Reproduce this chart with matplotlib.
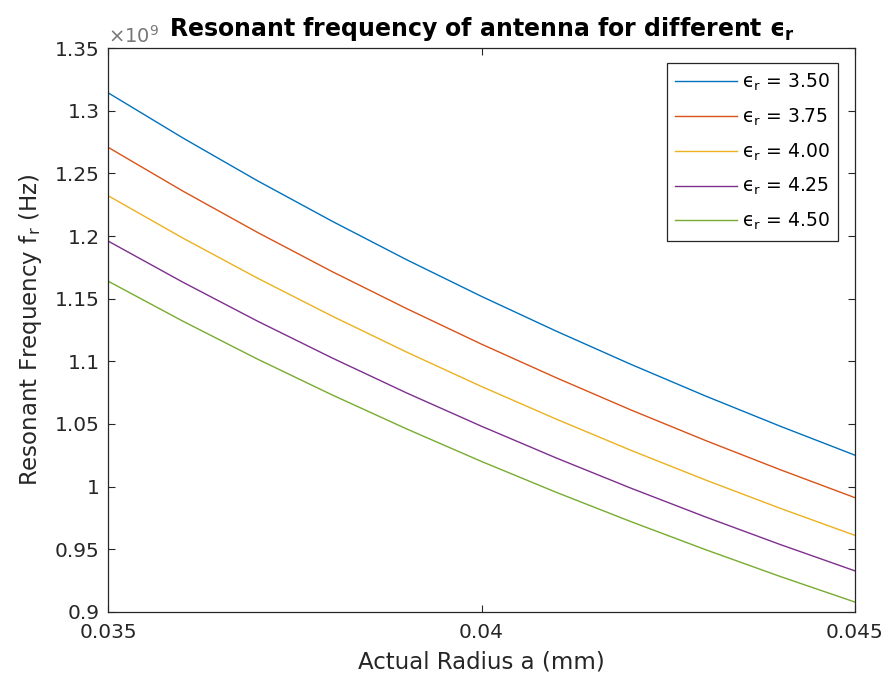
import matplotlib.pyplot as plt
from matplotlib.ticker import FuncFormatter
import numpy as np

# rayon (mm) et fréquences (en unités de 1e9 Hz)
radius = [0.035, 0.036, 0.037, 0.038, 0.039, 0.040, 0.041, 0.042, 0.043, 0.044, 0.045]
f_350 = [1.3143, 1.2783, 1.2441, 1.2118, 1.1810, 1.1518, 1.1241, 1.0976, 1.0723, 1.0482, 1.0251]
f_375 = [1.2708, 1.2359, 1.2029, 1.1716, 1.1420, 1.1137, 1.0869, 1.0612, 1.0368, 1.0135, 0.9912]
f_400 = [1.2322, 1.1984, 1.1664, 1.1361, 1.1073, 1.0799, 1.0539, 1.0290, 1.0053, 0.9827, 0.9611]
f_425 = [1.1960, 1.1632, 1.1321, 1.1027, 1.0747, 1.0482, 1.0229, 0.9988, 0.9758, 0.9538, 0.9328]
f_450 = [1.1640, 1.1321, 1.1018, 1.0732, 1.0460, 1.0201, 0.9955, 0.9721, 0.9497, 0.9283, 0.9079]
eps_labels = ["3.50", "3.75", "4.00", "4.25", "4.50"]
colors = ["#0072BD", "#D95319", "#EDB120", "#7E2F8E", "#77AC30"]

plt.rcParams['font.family'] = ['DejaVu Sans']
dark = "#262626"

fig = plt.figure(figsize=(8.87, 6.84), dpi=100)
ax = fig.add_axes([0.1218, 0.1053, 0.8421, 0.8245])

for vals, lab, c in zip([f_350, f_375, f_400, f_425, f_450], eps_labels, colors):
    ax.plot(radius, vals, color=c, lw=1.0, label="\u03f5$_\\mathregular{r}$ = " + lab)

ax.set_xlim(0.035, 0.045)
ax.set_ylim(0.9, 1.35)
ax.set_xticks([0.035, 0.04, 0.045])
ax.set_yticks(np.arange(0.9, 1.351, 0.05))
ax.xaxis.set_major_formatter(FuncFormatter(lambda v, p: f"{v:g}"))
ax.yaxis.set_major_formatter(FuncFormatter(lambda v, p: f"{round(v, 2):g}"))
ax.tick_params(direction='in', top=True, right=True, length=5, width=0.8,
               labelsize=14.5, colors=dark)
ax.tick_params(axis='x', pad=8)
ax.tick_params(axis='y', pad=6)
for s in ax.spines.values():
    s.set_color(dark)
    s.set_linewidth(0.9)

ax.text(0.0, 1.002, r"$\times\mathregular{10^{9}}$", transform=ax.transAxes, ha='left', va='bottom',
        fontsize=14, color="#777777")
ax.set_title("Resonant frequency of antenna for different \u03f5$_\\mathbf{r}$",
             fontsize=17, fontweight='bold', color='black', pad=9)
ax.set_xlabel("Actual Radius a (mm)", fontsize=16.5, color=dark, labelpad=6)
ax.set_ylabel(r"Resonant Frequency $\mathregular{f_r}$ (Hz)", fontsize=16.5, color=dark, labelpad=8)

leg = ax.legend(loc='upper right', bbox_to_anchor=(0.977, 0.973), borderaxespad=0,
                fontsize=13.5, fancybox=False, framealpha=1, edgecolor=dark,
                handlelength=3.3, handletextpad=0.25, labelspacing=0.72, borderpad=0.45)
leg.get_frame().set_linewidth(0.9)

fig.savefig("out.png", dpi=100)
